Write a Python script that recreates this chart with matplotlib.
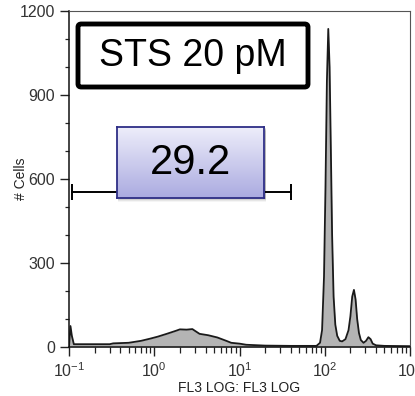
import matplotlib
matplotlib.use("Agg")
import matplotlib.pyplot as plt
import numpy as np
from matplotlib.patches import FancyBboxPatch, Rectangle
from matplotlib.ticker import FixedLocator, LogLocator, NullFormatter

plt.rcParams['font.family'] = ['Liberation Sans', 'DejaVu Sans']
plt.rcParams['mathtext.fontset'] = 'custom'
plt.rcParams['mathtext.rm'] = 'Liberation Sans'

# histogram: FL3 value and cell count
fl3 = [0.100, 0.104, 0.108, 0.114, 0.3, 0.33, 0.5, 0.7, 0.9, 1.1, 1.4, 1.8, 2.0,
       2.4, 2.8, 3.1, 3.4, 4.3, 5.5, 7.0, 8.0, 10, 12, 20, 40, 80, 88, 93, 98,
       102, 106, 110, 114, 118, 122, 127, 133, 140, 150, 160, 175, 190, 200,
       210, 220, 230, 240, 252, 265, 285, 305, 325, 345, 365, 400, 500, 1000]
cells = [0, 75, 40, 10, 10, 13, 15, 22, 30, 37, 47, 58, 63,
         62, 64, 55, 47, 42, 34, 22, 15, 12, 8, 5, 4, 4, 15, 60, 250,
         570, 950, 1136, 1000, 700, 400, 180, 80, 40, 22, 20, 28, 60, 110,
         180, 204, 170, 100, 50, 25, 15, 22, 35, 28, 12, 6, 4, 3]

gate_x = [0.108, 40]
gate_y = 555
gate_label = "29.2"
title_label = "STS 20 pM"
y_ticks = [0, 300, 600, 900, 1200]
x_ticks = [0.1, 1, 10, 100, 1000]
x_tick_labels = [r'$\mathregular{10^{-1}}$', r'$\mathregular{10^{0}}$',
                 r'$\mathregular{10^{1}}$', r'$\mathregular{10^{2}}$',
                 r'$\mathregular{10^{3}}$']

W, H = 415, 396
fig = plt.figure(figsize=(W / 100, H / 100), dpi=100)
ax = fig.add_axes([69 / W, (H - 347) / H, 341 / W, 336 / H])
ax.patch.set_alpha(0)

ax.fill_between(fl3, cells, 0, color='#b4b4b4', lw=0)
ax.plot(fl3, cells, color='#1a1a1a', lw=1.3)

ax.set_xscale('log')
ax.set_xlim(0.1, 1000)
ax.set_ylim(0, 1200)
ax.set_yticks(y_ticks)
ax.yaxis.set_minor_locator(FixedLocator(np.arange(0, 1201, 100)))
ax.set_xticks(x_ticks, x_tick_labels)
ax.xaxis.set_minor_locator(LogLocator(base=10, subs=np.arange(2, 10)))
ax.xaxis.set_minor_formatter(NullFormatter())

ax.tick_params(which='major', direction='out', length=6.5, width=1, colors='#222',
               labelsize=11.5, labelcolor='#333')
ax.tick_params(which='minor', direction='out', length=3, width=0.9, colors='#222')
ax.tick_params(axis='x', which='minor', length=4)
for s in ['left', 'bottom']:
    ax.spines[s].set_color('#111')
    ax.spines[s].set_linewidth(1.1)
for s in ['top', 'right']:
    ax.spines[s].set_color('#555')
    ax.spines[s].set_linewidth(0.8)

ax.set_xlabel("FL3 LOG: FL3 LOG", fontsize=10, color='#222', labelpad=1)
ax.set_ylabel("# Cells", fontsize=10, color='#222')
ax.yaxis.set_label_coords(-0.12, 0.5)

# gate bar
ax.plot(gate_x, [gate_y, gate_y], color='black', lw=1.4, marker='|', ms=12, mew=1.4)

# title box
box = FancyBboxPatch((78 / W, (H - 87) / H), 230 / W, 63 / H,
                     boxstyle="round,pad=0,rounding_size=0.008",
                     transform=fig.transFigure, fc='white', ec='black', lw=3.5,
                     zorder=5)
fig.patches.append(box)
fig.text(193 / W, (H - 56) / H, title_label, fontsize=27, ha='center', va='center',
         zorder=6)

# shadow under the gate label box
for i, a in enumerate([0.12, 0.09, 0.06, 0.04]):
    d = i + 1
    fig.patches.append(Rectangle((118 / W, (H - 198 - d) / H), 148 / W, 71 / H,
                                 transform=fig.transFigure, fc='black', alpha=a,
                                 lw=0, zorder=3))

# gate label box with gradient
bax = fig.add_axes([117 / W, (H - 198) / H, 147 / W, 71 / H])
bax.set_zorder(5)
grad = np.linspace(0, 1, 64).reshape(-1, 1)
top = np.array([0.93, 0.93, 0.98])
bot = np.array([0.67, 0.67, 0.88])
img = top + (bot - top) * grad[:, :, None]
bax.imshow(img, aspect='auto', extent=[0, 1, 0, 1], origin='upper')
bax.set_xticks([])
bax.set_yticks([])
for s in bax.spines.values():
    s.set_color('#2e2e86')
    s.set_linewidth(1.3)
bax.text(0.5, 0.5, gate_label, fontsize=30, ha='center', va='center',
         transform=bax.transAxes)

fig.savefig("out.png", dpi=100)
